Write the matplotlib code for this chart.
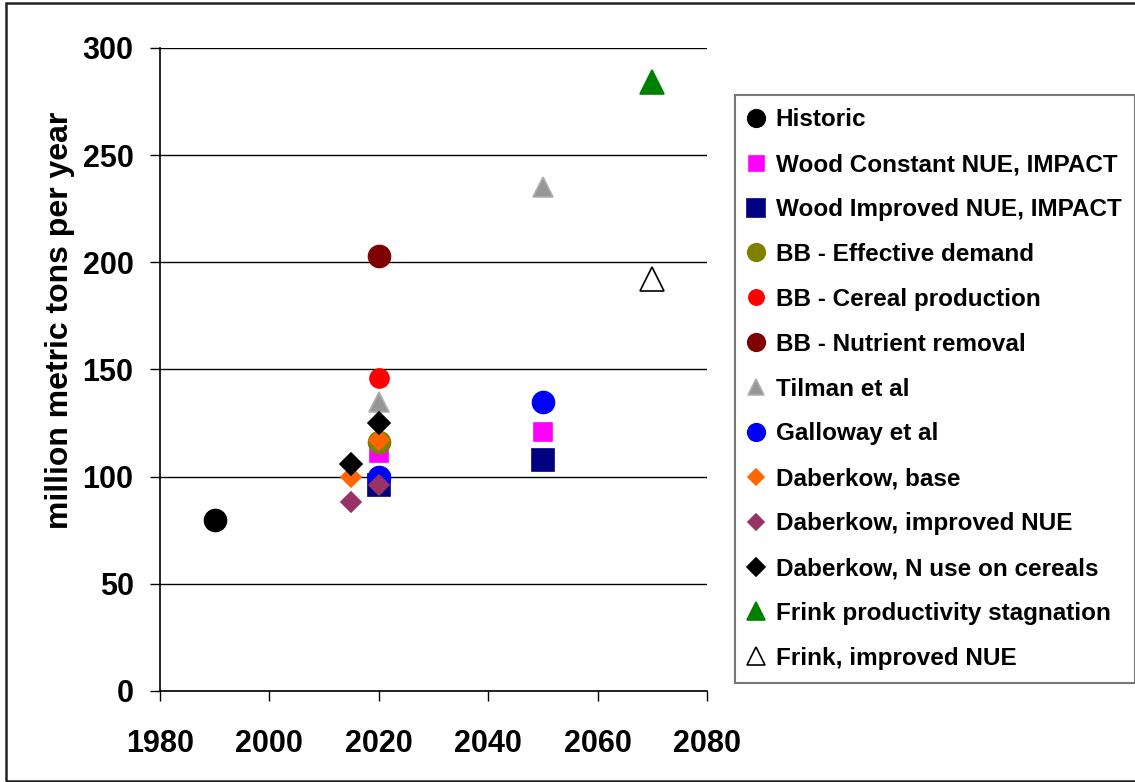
import numpy as np
import matplotlib
matplotlib.use("Agg")
import matplotlib.pyplot as plt
from matplotlib.patches import Rectangle

plt.rcParams['font.family'] = ['Liberation Sans', 'DejaVu Sans']
plt.rcParams['font.weight'] = 'bold'

# series: label, years, values
labels = [
    "Historic",
    "Wood Constant NUE, IMPACT",
    "Wood Improved NUE, IMPACT",
    "BB - Effective demand",
    "BB - Cereal production",
    "BB - Nutrient removal",
    "Tilman et al",
    "Galloway et al",
    "Daberkow, base",
    "Daberkow, improved NUE",
    "Daberkow, N use on cereals",
    "Frink productivity stagnation",
    "Frink, improved NUE",
]
years = [
    [1990],
    [2020, 2050],
    [2020, 2050],
    [2020],
    [2020],
    [2020],
    [2020, 2050],
    [2020, 2050],
    [2015, 2020],
    [2015, 2020],
    [2015, 2020],
    [2070],
    [2070],
]
values = [
    [80],
    [111, 121],
    [96, 108],
    [116],
    [146],
    [203],
    [135, 235],
    [100, 135],
    [100, 117],
    [88, 96],
    [106, 125],
    [284],
    [192],
]

# marker styles (marker, size pt, face, edge)
styles = [
    ("o", 15.8, "#000000", "#000000"),
    ("s", 13.5, "#FF00FF", "#FF00FF"),
    ("s", 15.5, "#000080", "#000080"),
    ("o", 15.8, "#808000", "#808000"),
    ("o", 13.7, "#FF0000", "#FF0000"),
    ("o", 15.8, "#800000", "#800000"),
    ("^", 14.4, "#969696", "#B0B0B0"),
    ("o", 15.8, "#0000FF", "#0000FF"),
    ("D", 10.2, "#FF6600", "#FF6600"),
    ("D", 10.2, "#993366", "#993366"),
    ("D", 11.7, "#000000", "#000000"),
    ("^", 16.6, "#008000", "#008000"),
    ("^", 16.6, "#FFFFFF", "#000000"),
]

fig = plt.figure(figsize=(11.35, 7.82), dpi=100)
ax = fig.add_axes([160 / 1135, 1 - 691 / 782, 547 / 1135, 643 / 782])

for lab, xs, ys, (m, ms, fc, ec) in zip(labels, years, values, styles):
    ax.plot(xs, ys, linestyle="none", marker=m, markersize=ms,
            markerfacecolor=fc, markeredgecolor=ec, markeredgewidth=1.2,
            label=lab, clip_on=False, zorder=3)

ax.set_xlim(1980, 2080)
ax.set_ylim(0, 300)
ax.set_xticks(np.arange(1980, 2081, 20))
ax.set_yticks(np.arange(0, 301, 50))
ax.grid(axis="y", color="black", linewidth=1.0)
ax.set_axisbelow(True)
for s in ["top", "right"]:
    ax.spines[s].set_visible(False)
for s in ["left", "bottom"]:
    ax.spines[s].set_linewidth(1.2)
ax.tick_params(axis="y", direction="out", length=7, width=1.0, pad=12, labelsize=22)
ax.tick_params(axis="x", direction="out", length=7, width=1.0, pad=20, labelsize=22)
for t in ax.get_xticklabels() + ax.get_yticklabels():
    t.set_fontweight("bold")

ax.set_ylabel("million metric tons per year", fontsize=23, fontweight="bold")
ax.yaxis.set_label_coords(-0.155, 0.577)

leg = fig.legend(loc="upper left", bbox_to_anchor=(735 / 1135, 1 - 95 / 782),
                 frameon=True, fancybox=False, fontsize=17.5, markerscale=0.8,
                 handlelength=0.6, handletextpad=0.52, labelspacing=0.9,
                 borderpad=0.55, borderaxespad=0)
leg.get_frame().set_edgecolor("#555555")
leg.get_frame().set_linewidth(1.5)
for t in leg.get_texts():
    t.set_fontweight("bold")

# outer chart border
fig.patches.append(Rectangle((6 / 1135, 1 / 782), 1.2, 1 - 4 / 782,
                             transform=fig.transFigure, fill=False,
                             edgecolor="#222222", linewidth=1.8))

fig.savefig("out.png", dpi=100)
